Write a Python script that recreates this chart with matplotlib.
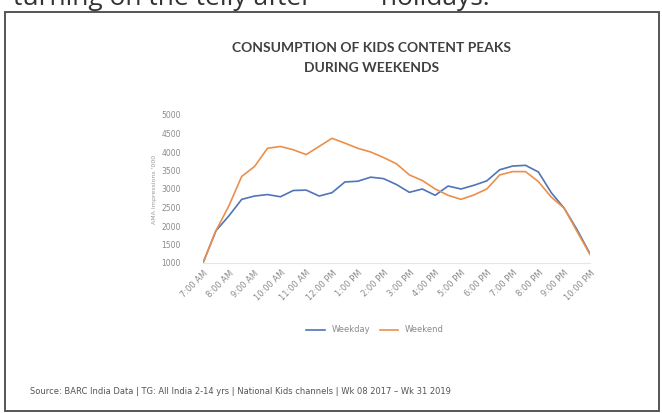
import matplotlib
matplotlib.use("Agg")
import matplotlib.pyplot as plt
from matplotlib.patches import Rectangle

# half-hourly slots 7:00 AM .. 10:00 PM
slots = ["7:00 AM", "7:30 AM", "8:00 AM", "8:30 AM", "9:00 AM", "9:30 AM",
         "10:00 AM", "10:30 AM", "11:00 AM", "11:30 AM", "12:00 PM", "12:30 PM",
         "1:00 PM", "1:30 PM", "2:00 PM", "2:30 PM", "3:00 PM", "3:30 PM",
         "4:00 PM", "4:30 PM", "5:00 PM", "5:30 PM", "6:00 PM", "6:30 PM",
         "7:00 PM", "7:30 PM", "8:00 PM", "8:30 PM", "9:00 PM", "9:30 PM",
         "10:00 PM"]
weekday = [1000, 1870, 2270, 2720, 2810, 2850, 2790, 2960, 2970, 2810,
           2900, 3190, 3210, 3320, 3280, 3120, 2910, 3000, 2830, 3080,
           3000, 3100, 3220, 3520, 3620, 3640, 3460, 2900, 2480, 1900,
           1250]
weekend = [1000, 1870, 2540, 3340, 3610, 4100, 4150, 4060, 3930, 4150,
           4370, 4240, 4100, 4000, 3850, 3680, 3380, 3230, 3000, 2830,
           2720, 2840, 3000, 3380, 3470, 3470, 3200, 2780, 2480, 1850,
           1230]
y_ticks = [1000, 1500, 2000, 2500, 3000, 3500, 4000, 4500, 5000]

W, H = 662, 413
fig = plt.figure(figsize=(W / 100, H / 100), dpi=100)

# slide frame and the cut-off caption above it
fig.patches.append(Rectangle((5 / W, 0.004), 654 / W, 1 - 12 / H - 0.004,
                             transform=fig.transFigure, fill=False,
                             edgecolor="#555555", linewidth=1.4))
fig.text(0.02, 1 - 5 / H, "turning on the telly after          holidays.",
         fontsize=19, color="#333333", va="baseline", family="Open Sans")

ax = fig.add_axes([203 / W, 1 - 263 / H, 387 / W, 148 / H])
x = list(range(len(slots)))
ax.plot(x, weekday, color="#4f74b8", linewidth=1.2, label="Weekday")
ax.plot(x, weekend, color="#eb8f4c", linewidth=1.2, label="Weekend")

ax.set_xlim(0, len(slots) - 1)
ax.set_ylim(1000, 5000)
ax.set_yticks(y_ticks)
ax.set_yticklabels([str(v) for v in y_ticks], fontsize=5.5, color="#8a8a8a")
ax.set_xticks(x[::2])
ax.set_xticklabels(slots[::2], rotation=45, ha="right", rotation_mode="anchor",
                   fontsize=6, color="#8a8a8a")
ax.tick_params(axis="x", length=0, pad=4)
ax.tick_params(axis="y", length=0, pad=16)
for s in ["top", "right", "left"]:
    ax.spines[s].set_visible(False)
ax.spines["bottom"].set_color("#e6e6e6")
ax.set_ylabel("AMA Impressions '000", fontsize=4.5, color="#9a9a9a", labelpad=3)

ax.legend(loc="center", bbox_to_anchor=(375 / W, 1 - 330 / H),
          bbox_transform=fig.transFigure, ncol=2, frameon=False,
          fontsize=6, handlelength=2.2, columnspacing=1.2,
          labelcolor="#8a8a8a")

fig.text(372 / W, 1 - 58 / H, "CONSUMPTION OF KIDS CONTENT PEAKS\nDURING WEEKENDS",
         ha="center", va="center", fontsize=10, fontweight="bold",
         color="#404040", linespacing=1.75, family="Lato")

fig.text(30 / W, 1 - 392 / H,
         "Source: BARC India Data | TG: All India 2-14 yrs | National Kids channels | "
         "Wk 08 2017 \u2013 Wk 31 2019",
         fontsize=6, color="#555555", va="center")

fig.savefig("out.png", dpi=100)
